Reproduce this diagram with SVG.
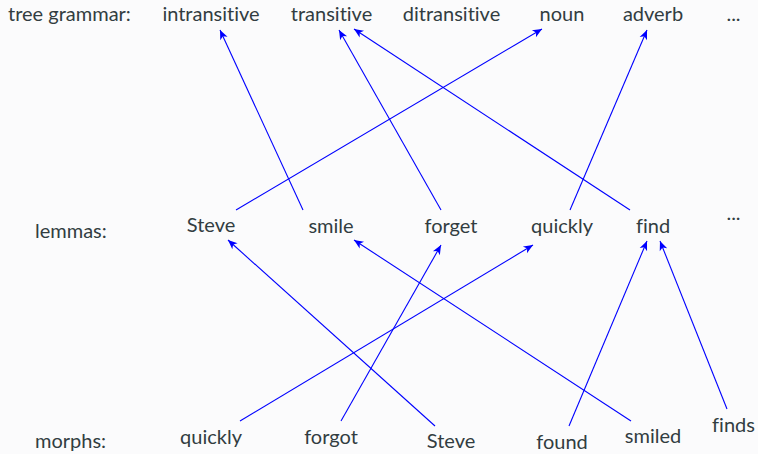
<svg xmlns="http://www.w3.org/2000/svg" width="758" height="454" viewBox="0 0 758 454">
<style>
text{font-family:Lato,"Open Sans","Liberation Sans",sans-serif;font-size:20px;fill:#323d41;font-variant-ligatures:none;font-feature-settings:"liga" 0,"clig" 0}
.c{text-anchor:middle}
.e line{stroke:#0000ff;stroke-width:1.1;fill:none;marker-end:url(#ah)}
</style>
<defs>
<marker id="ah" markerUnits="userSpaceOnUse" markerWidth="12" markerHeight="10" viewBox="-8 -4 9 8" refX="0" refY="0" orient="auto">
<path d="M0,0 L-7.5,-3.2 L-5.5,0 L-7.5,3.2 Z" fill="#0000ff"/>
</marker>
</defs>
<rect width="758" height="454" fill="#fbfbfc"/>
<g id="row-labels">
<text x="8" y="21">tree grammar:</text>
<text x="35" y="238">lemmas:</text>
<text x="35" y="448">morphs:</text>
</g>
<g id="n-intransitive"><text class="c" x="211" y="21">intransitive</text></g>
<g id="n-transitive"><text class="c" x="331.5" y="21">transitive</text></g>
<g id="n-ditransitive"><text class="c" x="451.5" y="21">ditransitive</text></g>
<g id="n-noun"><text class="c" x="562" y="21">noun</text></g>
<g id="n-adverb"><text class="c" x="653" y="21">adverb</text></g>
<g id="n-tg-more"><text class="c" x="733.5" y="21">...</text></g>
<g id="n-l-steve"><text class="c" x="211" y="232">Steve</text></g>
<g id="n-l-smile"><text class="c" x="331" y="233">smile</text></g>
<g id="n-l-forget"><text class="c" x="451" y="233">forget</text></g>
<g id="n-l-quickly"><text class="c" x="562" y="233">quickly</text></g>
<g id="n-l-find"><text class="c" x="653" y="233">find</text></g>
<g id="n-l-more"><text class="c" x="733.5" y="220">...</text></g>
<g id="n-m-quickly"><text class="c" x="211" y="444">quickly</text></g>
<g id="n-m-forgot"><text class="c" x="331" y="444">forgot</text></g>
<g id="n-m-steve"><text class="c" x="451" y="448">Steve</text></g>
<g id="n-m-found"><text class="c" x="562" y="449">found</text></g>
<g id="n-m-smiled"><text class="c" x="653" y="443">smiled</text></g>
<g id="n-m-finds"><text class="c" x="733.5" y="432">finds</text></g>
<g id="connectors" class="e">
<line x1="303" y1="210" x2="220" y2="30"/>
<line x1="441" y1="210" x2="339" y2="30"/>
<line x1="630" y1="210" x2="354" y2="29"/>
<line x1="236" y1="210" x2="542" y2="29"/>
<line x1="570" y1="210" x2="647" y2="30"/>
<line x1="435" y1="426" x2="228" y2="240"/>
<line x1="341" y1="421" x2="441" y2="245"/>
<line x1="240" y1="421" x2="533" y2="245"/>
<line x1="631" y1="421" x2="354" y2="240"/>
<line x1="569" y1="426" x2="647" y2="241"/>
<line x1="727" y1="409" x2="660" y2="241"/>
</g>
</svg>
